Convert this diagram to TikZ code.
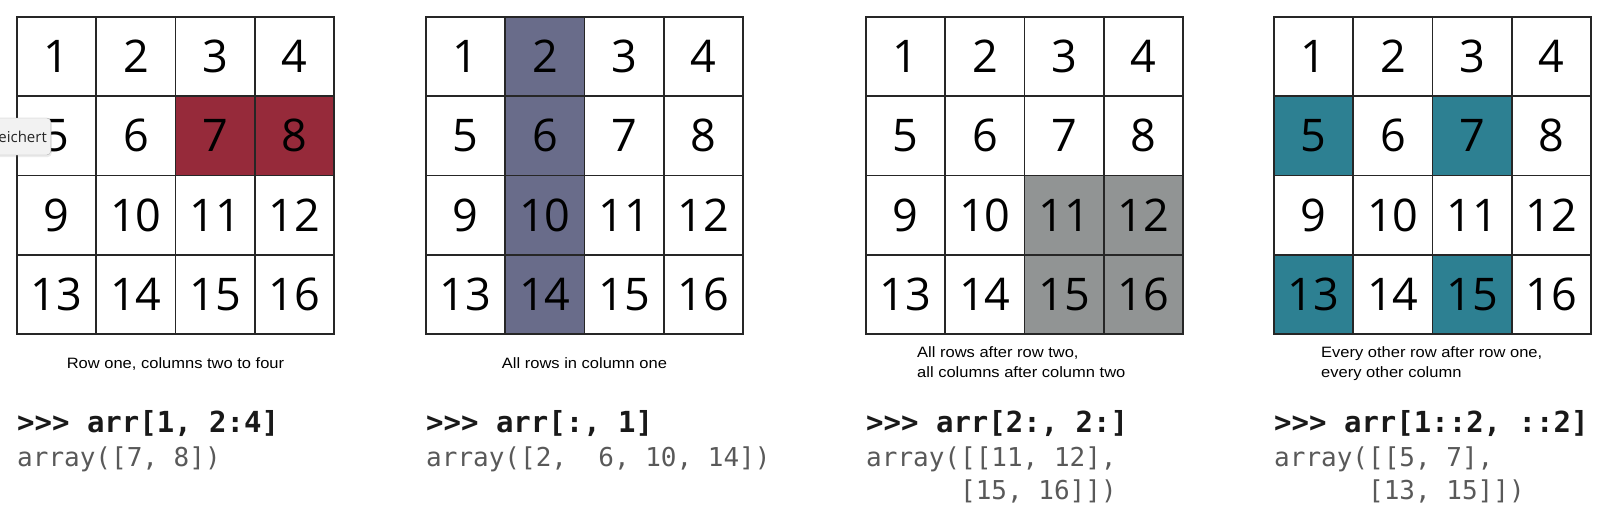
\documentclass[tikz,border=0pt]{standalone}
\usepackage{fontspec}
\usetikzlibrary{calc, math, shadows}
\setmainfont{Open Sans}
\newfontfamily\capfont[FakeStretch=1.1]{Liberation Sans}
\newfontfamily\codefont{DejaVu Sans Mono}
\definecolor{rowred}{RGB}{150,42,58}
\definecolor{colslate}{RGB}{105,108,138}
\definecolor{blockgrey}{RGB}{145,148,148}
\definecolor{stepteal}{RGB}{45,128,146}
\newcommand\cs{79.25}

\begin{document}
\begin{tikzpicture}[x=1pt, y=-1pt,
  cell/.style={draw=black!85, line width=1.6pt, minimum size=\cs pt, inner sep=0pt, font=\fontsize{45}{45}\selectfont},
  caption/.style={font=\capfont\fontsize{15}{20}\selectfont, align=left, inner sep=0pt},
  prompt/.style={font=\codefont\bfseries\fontsize{29}{34}\selectfont, text=black!90, anchor=base west, inner sep=0pt},
  result/.style={font=\codefont\fontsize{26}{33.5}\selectfont, text=black!65, anchor=base west, inner sep=0pt, align=left},
  tip/.style={draw=black!30, fill=black!5, rounded corners=4pt, inner xsep=4pt, minimum height=37pt, font=\fontsize{15}{15}\selectfont, text=black!85,
    drop shadow={opacity=0.15, shadow xshift=1pt, shadow yshift=-2pt}}]

\tikzmath{
  \ytop = 17; \ycap = 368; \ycmd = 432; \yout = 466; \ylast = \yout + 33.5;
}

\useasboundingbox (0,0) rectangle (1600,528);

% the four 4x4 arrays, selected cells filled
\foreach \gx/\g/\test/\hc in {17/a/{\row==2 && \col>=3}/rowred,
                               426/b/{\col==2}/colslate,
                               866/c/{\row>=3 && \col>=3}/blockgrey,
                               1274/d/{mod(\row,2)==0 && mod(\col,2)==1}/stepteal}{
  \foreach \n in {1,...,16}{
    \pgfmathtruncatemacro\row{int((\n-1)/4)+1}
    \pgfmathtruncatemacro\col{mod(\n-1,4)+1}
    \pgfmathtruncatemacro\hit{\test}
    \ifnum\hit=1 \edef\cc{\hc}\else\def\cc{white}\fi
    \node[cell, fill=\cc] (\g\n) at ({\gx+(\col-0.5)*\cs}, {\ytop+(\row-0.5)*\cs}) {\n};
  }
}

% captions (two-line ones sit on their last line)
\node[caption, anchor=base] (capa) at (175.5, \ycap) {Row one, columns two to four};
\node[caption, anchor=base] (capb) at (584.5, \ycap) {All rows in column one};
\node[caption, anchor=base west] (capc) at (917, 377) {All rows after row two,\\all columns after column two};
\node[caption, anchor=base west] (capd) at (1321, 377) {Every other row after row one,\\every other column};

% python lines
\foreach \gx/\g/\cmd in {17/a/{>>> arr[1, 2:4]}, 426/b/{>>> arr[:, 1]},
                         866/c/{>>> arr[2:, 2:]}, 1274/d/{>>> arr[1::2, ::2]}}
  \node[prompt] (cmd\g) at (\gx, \ycmd) {\cmd};

\node[result] (outa) at (17, \yout) {array([7, 8])};
\node[result] (outb) at (426, \yout) {array([2,\ \ 6, 10, 14])};
\node[result] (outc) at (866, \ylast) {array([[11, 12],\\\phantom{array(}[15, 16]])};
\node[result] (outd) at (1274, \ylast) {array([[5, 7],\\\phantom{array(}[13, 15]])};

% browser tooltip over the first array
\node[tip, anchor=east] (tip) at (51, 136.5) {eichert};

\end{tikzpicture}
\end{document}
